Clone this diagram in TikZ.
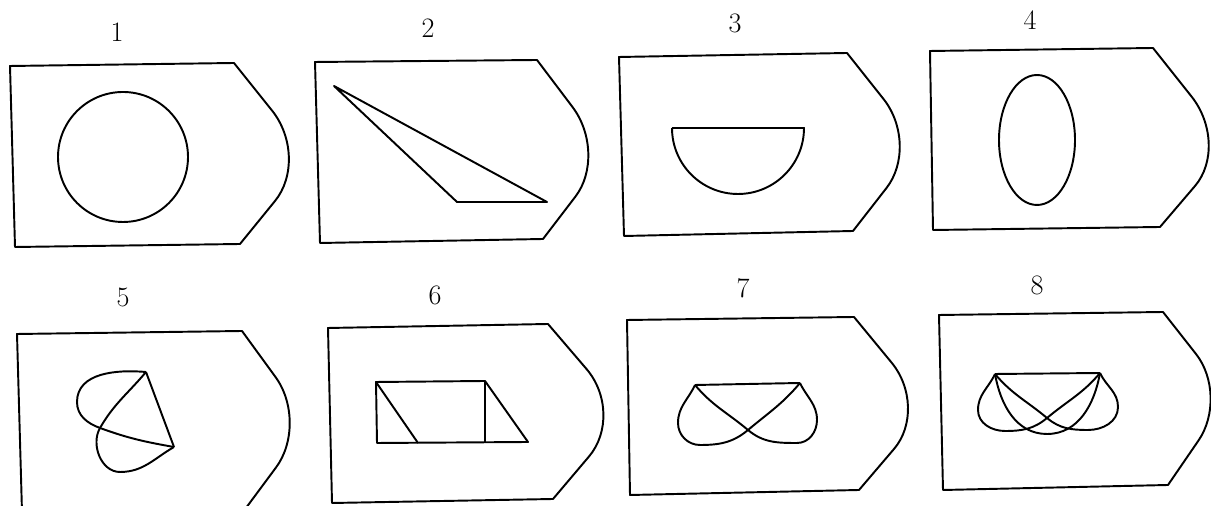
\documentclass[tikz,border=0pt]{standalone}
\usepackage{tikz}
\usetikzlibrary{calc}

\tikzset{
  frameline/.style={line width=1.1pt, line join=round},
  figline/.style={line width=1.1pt, line join=round},
  numlabel/.style={font=\fontsize{16}{19}\selectfont, inner sep=0pt}
}
% outline of one card: top left, top right, tip, bottom right, bottom left
\newcommand{\tagframe}[5]{%
  \draw[frameline] (#1) -- (#2) -- ($(#2)!0.5!(#3)$)
    .. controls ($(#2)!0.78!(#3)$) and ($(#4)!0.78!(#3)$) .. ($(#4)!0.5!(#3)$)
    -- (#4) -- (#5) -- cycle;}

\begin{document}
\begin{tikzpicture}[x=0.02cm, y=0.02cm]
    \useasboundingbox (0,0) rectangle (1211,506);
    \clip (0,0) rectangle (1211,506);

    \node[numlabel] (n1) at (117,474) {1};
    \node[numlabel] (n2) at (428,478) {2};
    \node[numlabel] (n3) at (735,483) {3};
    \node[numlabel] (n4) at (1030,486) {4};
    \node[numlabel] (n5) at (123,209) {5};
    \node[numlabel] (n6) at (435,211) {6};
    \node[numlabel] (n7) at (743,218) {7};
    \node[numlabel] (n8) at (1037,221) {8};

    % top row
    \tagframe{10,440}{234,443}{310,348}{240,262}{15,259}
    \draw[figline] (123,349) circle[radius=65];

    \tagframe{315,444}{537,446}{608,352}{543,267}{320,263}
    \coordinate (t1) at (334,420);
    \coordinate (t2) at (547,304);
    \coordinate (t3) at (457,304);
    \draw[figline] (t1) -- (t2) -- (t3) -- cycle;

    \tagframe{619,449}{847,453}{920,361}{853,275}{624,270}
    \draw[figline] (672,378) -- (804,378) arc[start angle=0, end angle=-180, radius=66];

    \tagframe{930,455}{1153,458}{1230,361}{1160,279}{933,276}
    \draw[figline] (1037,366) ellipse[x radius=38, y radius=65];

    % bottom row
    \tagframe{17,172}{242,175}{309,83}{243,-6}{22,-6}
    \coordinate (a5) at (146,134);
    \coordinate (b5) at (174,59);
    \coordinate (x5) at (100,78);
    \draw[figline] (a5) -- (b5);
    \draw[figline] (a5) to[out=175,in=90] (77,104) to[out=-90,in=160] (x5) to[out=-20,in=170] (b5);
    \draw[figline] (a5) to[out=-130,in=60] (x5) to[out=-120,in=180] (120,34) to[out=0,in=-150] (b5);

    \tagframe{328,178}{548,182}{625,92}{553,7}{332,3}
    \coordinate (r1) at (376,124);
    \coordinate (r2) at (485,125);
    \coordinate (r3) at (528,64);
    \coordinate (r4) at (377,63);
    \draw[figline] (r1) -- (r2) -- (r3) -- (r4) -- cycle;
    \draw[figline] (r1) -- (418,63);
    \draw[figline] (r2) -- (485,63);

    \tagframe{627,186}{854,189}{929,98}{859,16}{630,11}
    \coordinate (p7) at (695,121);
    \coordinate (q7) at (800,123);
    \coordinate (x7) at (748,76);
    \draw[figline] (p7) -- (q7);
    \draw[figline] (p7) to[out=-115,in=90] (678,83) to[out=-90,in=180] (700,61) to[out=0,in=-140] (x7) to[out=40,in=-130] (q7);
    \draw[figline] (q7) to[out=-65,in=90] (817,86) to[out=-90,in=0] (797,63) to[out=180,in=-40] (x7) to[out=140,in=-50] (p7);

    \tagframe{939,191}{1163,194}{1229,110}{1168,21}{943,16}
    \coordinate (p8) at (995,132);
    \coordinate (q8) at (1100,133);
    \coordinate (x8) at (1047,88);
    \draw[figline] (p8) -- (q8);
    \draw[figline] (p8) to[out=-115,in=90] (978,96) to[out=-90,in=180] (1005,75) to[out=0,in=-140] (x8) to[out=40,in=-130] (q8);
    \draw[figline] (q8) to[out=-65,in=90] (1118,99) to[out=-90,in=0] (1088,76) to[out=180,in=-40] (x8) to[out=140,in=-50] (p8);
    \draw[figline] (p8) to[out=-80,in=180] (1047,72) to[out=0,in=-100] (q8);
\end{tikzpicture}
\end{document}
